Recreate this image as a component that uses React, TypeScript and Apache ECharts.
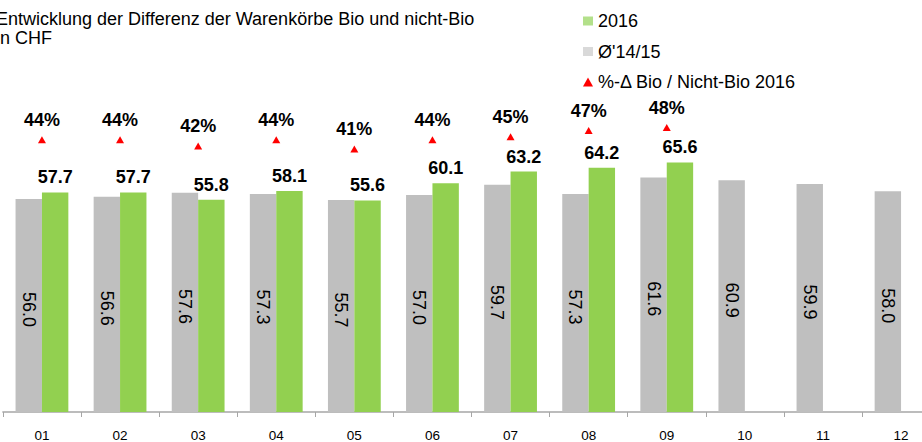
import React, { useEffect, useRef } from "react";
import * as echarts from "echarts";

const categories = ["01", "02", "03", "04", "05", "06", "07", "08", "09", "10", "11", "12"];
const avg1415 = [56.0, 56.6, 57.6, 57.3, 55.7, 57.0, 59.7, 57.3, 61.6, 60.9, 59.9, 58.0];
const y2016 = [57.7, 57.7, 55.8, 58.1, 55.6, 60.1, 63.2, 64.2, 65.6, null, null, null];
const pctDiff = [44, 44, 42, 44, 41, 44, 45, 47, 48, null, null, null];

const titleText = "Entwicklung der Differenz der Warenkörbe Bio und nicht-Bio\nin CHF";
const seriesNames = ["2016", "Ø'14/15", "%-Δ Bio / Nicht-Bio 2016"];

const FONT = "'Liberation Sans', Arial, sans-serif";

export default function App() {
  const ref = useRef<HTMLDivElement>(null);
  useEffect(() => {
    if (!ref.current) return;
    const chart = echarts.init(ref.current, undefined, { renderer: "svg" });
    chart.setOption({
      animation: false,
      textStyle: { fontFamily: FONT },
      title: {
        text: titleText,
        left: -4,
        top: 9,
        padding: 0,
        textStyle: { fontSize: 18, fontWeight: "normal", color: "#000", lineHeight: 19, fontFamily: FONT },
      },
      legend: {
        orient: "vertical",
        left: 583,
        top: 12,
        itemGap: 12.5,
        itemWidth: 10,
        itemHeight: 9,
        padding: 0,
        textStyle: { fontSize: 18, color: "#000", fontFamily: FONT },
        data: [
          { name: seriesNames[0], icon: "rect", itemStyle: { color: "#B3E08A" } },
          { name: seriesNames[1], icon: "rect", itemStyle: { color: "#D9D9D9" } },
          { name: seriesNames[2], icon: "triangle", itemStyle: { color: "#FF0000" } },
        ],
      },
      grid: { left: 2.9, top: 31.5, width: 937.2, height: 385.5, containLabel: false },
      xAxis: {
        type: "category",
        data: categories,
        axisLine: { show: true, lineStyle: { color: "#A6A6A6", width: 1.5 } },
        axisTick: { show: true, length: 5, lineStyle: { color: "#A6A6A6", width: 1 } },
        axisLabel: { fontSize: 13.5, color: "#000", margin: 16, fontFamily: FONT },
      },
      yAxis: [
        { type: "value", min: 0, max: 100, show: false, splitLine: { show: false } },
        { type: "value", min: -45, max: 79.4, show: false, splitLine: { show: false } },
      ],
      series: [
        {
          name: seriesNames[1],
          type: "bar",
          data: avg1415,
          barWidth: 26.4,
          barGap: "0%",
          itemStyle: { color: "#BFBFBF" },
          label: {
            show: true,
            position: "inside",
            rotate: -90,
            fontSize: 18,
            color: "#000",
            fontFamily: FONT,
            offset: [4, 0],
            formatter: (p: any) => Number(p.value).toFixed(1),
          },
        },
        {
          name: seriesNames[0],
          type: "bar",
          data: y2016,
          barWidth: 26.4,
          barGap: "0%",
          itemStyle: { color: "#92D050" },
          label: {
            show: true,
            position: "top",
            distance: 6,
            fontSize: 18,
            fontWeight: "bold",
            color: "#000",
            fontFamily: FONT,
            formatter: (p: any) => (p.value == null ? "" : Number(p.value).toFixed(1)),
          },
        },
        {
          name: seriesNames[2],
          type: "scatter",
          yAxisIndex: 1,
          data: pctDiff,
          symbol: "triangle",
          symbolSize: [8, 7],
          itemStyle: { color: "#FF0000", opacity: 1 },
          label: {
            show: true,
            position: "top",
            distance: 7,
            fontSize: 18,
            fontWeight: "bold",
            color: "#000",
            opacity: 1,
            fontFamily: FONT,
            formatter: (p: any) => (p.value == null ? "" : p.value + "%"),
          },
        },
      ],
    });
    return () => chart.dispose();
  }, []);
  return (
    <div style={{ position: "fixed", left: 0, top: 0, width: 922, height: 442, overflow: "hidden", background: "#fff" }}>
      <div ref={ref} style={{ width: 945, height: 442 }} />
    </div>
  );
}
